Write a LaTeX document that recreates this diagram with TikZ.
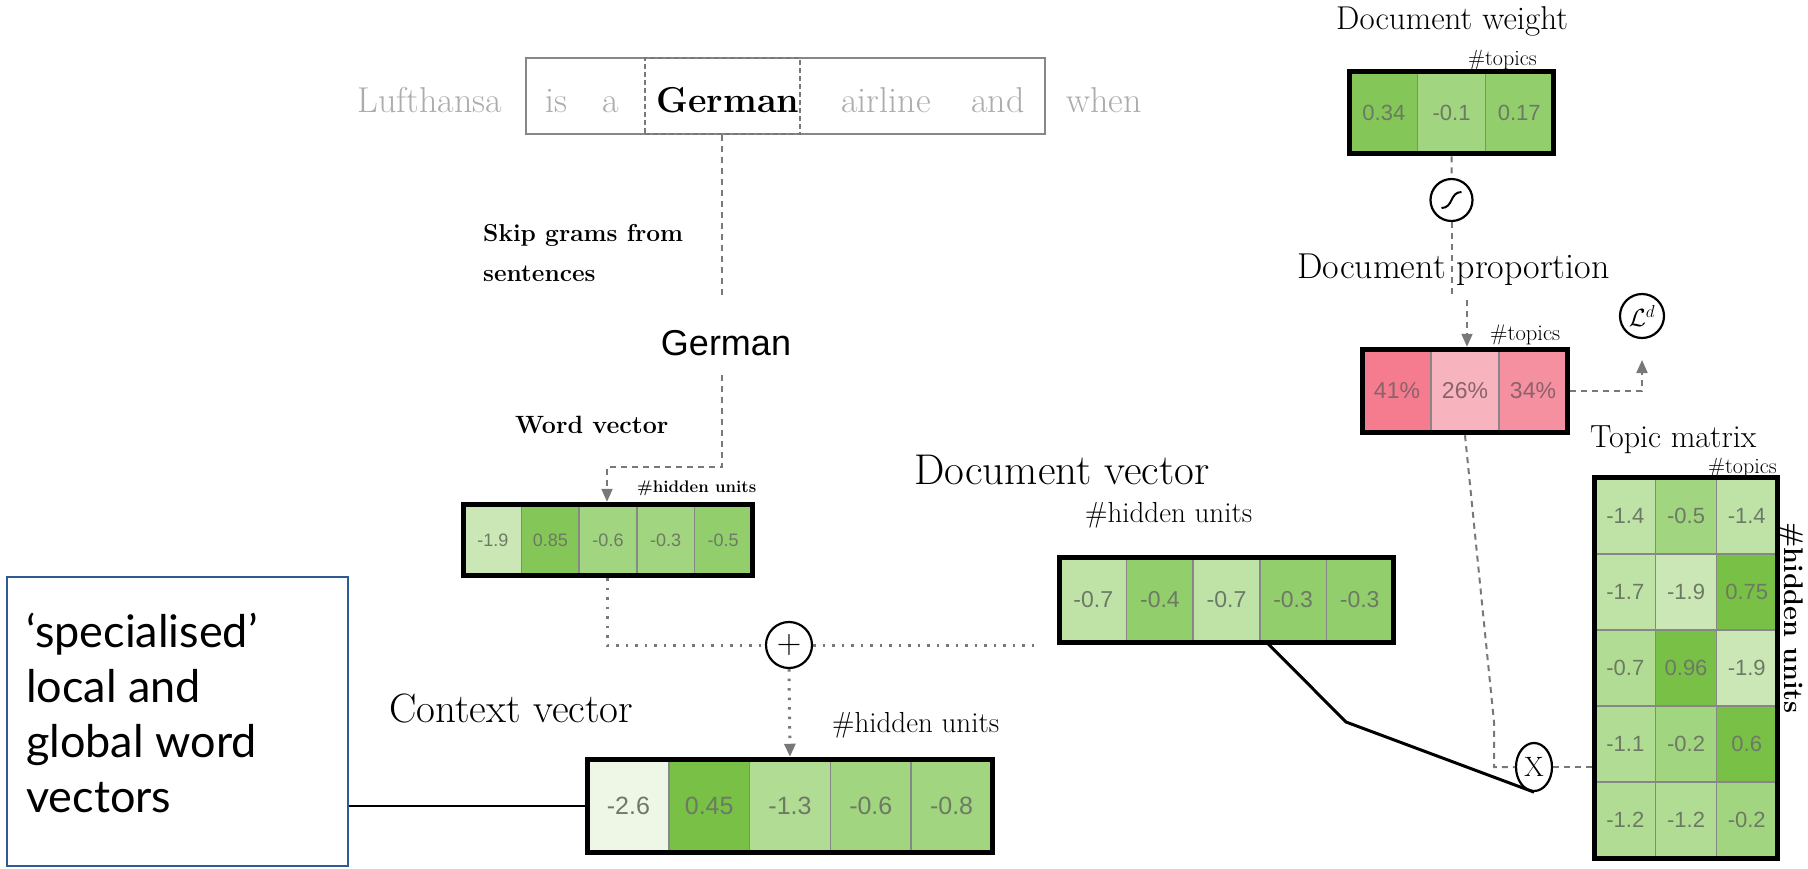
\documentclass[tikz,border=0pt]{standalone}
\usepackage{fontspec}
\newfontfamily\numfont{Liberation Sans}
\newfontfamily\callfont{Lato}
\usetikzlibrary{arrows.meta,fit,shapes.geometric}

\newcommand\setfs[1]{\fontsize{#1}{#1}\selectfont}

% cell shades
\definecolor{gW}{HTML}{EEF7E6}
\definecolor{gA}{HTML}{CBE7B6}
\definecolor{gB}{HTML}{BFE2A6}
\definecolor{gC}{HTML}{B0DC94}
\definecolor{gD}{HTML}{A2D57F}
\definecolor{gE}{HTML}{92CE6C}
\definecolor{gF}{HTML}{78C046}
\definecolor{gG}{HTML}{84C658}
\definecolor{pA}{HTML}{F47C8E}
\definecolor{pB}{HTML}{F8B4BE}
\definecolor{pC}{HTML}{F4909F}
\definecolor{numgreen}{RGB}{108,122,100}
\definecolor{numpink}{RGB}{140,98,106}
\definecolor{cellline}{RGB}{135,135,135}
\definecolor{dgray}{RGB}{120,120,120}
\definecolor{wordgray}{RGB}{172,172,172}
\definecolor{callblue}{RGB}{46,90,150}

\begin{document}
\begin{tikzpicture}[x=1pt,y=-1pt,
  cell/.style={draw=cellline, line width=1.5pt, inner sep=0pt, text=numgreen},
  pcell/.style={cell, text=numpink},
  vecbox/.style={draw=black, line width=5pt, inner sep=0pt},
  dashline/.style={draw=dgray, line width=2pt, dash pattern=on 6pt off 5pt},
  dotline/.style={draw=dgray, line width=3pt, dash pattern=on 2.5pt off 7pt},
  tip/.style={-{Triangle[length=13pt,width=11pt]}},
  opcircle/.style={circle, draw=black, line width=2.2pt, inner sep=0pt},
  sentword/.style={anchor=base, inner sep=0pt, text=wordgray, font=\setfs{36}},
  lab/.style={anchor=base west, inner sep=0pt},
]
\useasboundingbox (0,0) rectangle (1808,868);
\fill[white] (0,0) rectangle (1808,868);

% ---------- sentence with skip-gram window ----------
\node[draw=cellline, line width=2.5pt, minimum width=519pt, minimum height=76pt, inner sep=0pt] (sentbox) at (785.5,96) {};
\node[draw=dgray, line width=2pt, dash pattern=on 5pt off 3pt, minimum width=155pt, minimum height=76pt, inner sep=0pt] (germbox) at (722,96) {};
\node[sentword] (wLuf) at (430,112) {Lufthansa};
\node[sentword] (wis) at (556,112) {is};
\node[sentword] (wa) at (611,112) {a};
\node[sentword, text=black, font=\bfseries\setfs{36}] (wGer) at (728,112) {German};
\node[sentword] (wair) at (886,112) {airline};
\node[sentword] (wand) at (998,112) {and};
\node[sentword] (wwhen) at (1104,112) {when};

\node[lab, font=\bfseries\setfs{24.5}] (skip1) at (483,241) {Skip grams from};
\node[lab, font=\bfseries\setfs{24.5}] (skip2) at (483,281) {sentences};
\node[anchor=base, inner sep=0pt, font=\numfont\setfs{36}] (glabel) at (726,355) {German};

% ---------- word vector ----------
\node[lab, font=\bfseries\setfs{25}] (wvlab) at (515,433) {Word vector};
\node[lab, font=\bfseries\setfs{16.8}] (wvhu) at (637,492) {\#hidden units};
\foreach \v/\c [count=\i] in {-1.9/gA, 0.85/gG, -0.6/gD, -0.3/gD, -0.5/gE}
  \node[cell, fill=\c, minimum width=57.6pt, minimum height=70pt, font=\numfont\setfs{18}] (w\i) at ({464+(\i-0.5)*57.6},540) {\v};
\node[vecbox, fit=(w1)(w5)] (word) {};

% ---------- context vector ----------
\node[lab, font=\setfs{41}] (cvlab) at (389,722) {Context vector};
\node[lab, font=\setfs{29}] (cvhu) at (832,732) {\#hidden units};
\foreach \v/\c [count=\i] in {-2.6/gW, 0.45/gF, -1.3/gC, -0.6/gD, -0.8/gD}
  \node[cell, fill=\c, minimum width=80.8pt, minimum height=92pt, font=\numfont\setfs{25}] (c\i) at ({588+(\i-0.5)*80.8},806) {\v};
\node[vecbox, fit=(c1)(c5)] (context) {};

\node[opcircle, minimum size=46pt, font=\setfs{34}] (plus) at (789,645) {+};

% ---------- document vector ----------
\node[lab, font=\setfs{43}] (dvlab) at (914,484) {Document vector};
\node[lab, font=\setfs{29}] (dvhu) at (1085,522) {\#hidden units};
\foreach \v/\c [count=\i] in {-0.7/gB, -0.4/gE, -0.7/gB, -0.3/gE, -0.3/gE}
  \node[cell, fill=\c, minimum width=66.6pt, minimum height=84pt, font=\numfont\setfs{23}] (d\i) at ({1060+(\i-0.5)*66.6},600) {\v};
\node[vecbox, fit=(d1)(d5)] (docvec) {};

% ---------- document weight and proportion ----------
\node[lab, font=\setfs{33}] (dwlab) at (1336,29) {Document weight};
\node[lab, font=\setfs{22}] (dwtop) at (1468,65) {\#topics};
\foreach \v/\c [count=\i] in {0.34/gG, -0.1/gD, 0.17/gE}
  \node[cell, fill=\c, minimum width=67.7pt, minimum height=81pt, font=\numfont\setfs{22}] (k\i) at ({1350+(\i-0.5)*67.7},112.5) {\v};
\node[vecbox, fit=(k1)(k3)] (weight) {};

\node[opcircle, minimum size=42pt] (sig) at (1451.5,200) {};
\draw[line width=2pt] (sig.center) ++(-10,8) .. controls +(12,0) and +(-12,0) .. ++(20,-16);

\node[lab, font=\setfs{36}] (dplab) at (1297,278) {Document proportion};
\node[lab, font=\setfs{22.5}] (dptop) at (1490,340) {\#topics};
\foreach \v/\c [count=\i] in {41\%/pA, 26\%/pB, 34\%/pC}
  \node[pcell, fill=\c, minimum width=68pt, minimum height=82pt, font=\numfont\setfs{23}] (p\i) at ({1363+(\i-0.5)*68},391) {\v};
\node[vecbox, fit=(p1)(p3)] (prop) {};

\node[opcircle, minimum size=44pt, font=\setfs{24}] (loss) at (1642,316) {$\mathcal{L}^{d}$};

% ---------- topic matrix ----------
\node[lab, font=\setfs{32}] (tmlab) at (1590,447) {Topic matrix};
\node[lab, font=\setfs{22}] (tmtop) at (1708,473) {\#topics};
\foreach \v/\c [count=\i] in {-1.4/gB, -0.5/gD, -1.4/gB, -1.7/gB, -1.9/gA, 0.75/gF, -0.7/gC, 0.96/gF, -1.9/gA, -1.1/gC, -0.2/gD, 0.6/gF, -1.2/gC, -1.2/gC, -0.2/gD}
  \node[cell, fill=\c, minimum width=60.7pt, minimum height=76pt, font=\numfont\setfs{22}] (m\i)
    at ({1595+(mod(\i-1,3)+0.5)*60.7},{478+(floor((\i-1)/3)+0.5)*76}) {\v};
\node[vecbox, fit=(m1)(m15)] (topicmat) {};
\node[rotate=-90, inner sep=0pt, font=\bfseries\setfs{27}] (tmhu) at (1791,618) {\#hidden units};

\node[draw=black, ellipse, line width=2.2pt, minimum width=36pt, minimum height=48pt, inner sep=0pt, font=\setfs{28}] (X) at (1534,767) {X};

% ---------- callout ----------
\node[draw=callblue, line width=1.6pt, minimum width=341pt, minimum height=289pt, inner sep=0pt] (callout) at (177.5,721.5) {};
\node[anchor=north west, align=left, inner sep=0pt, font=\callfont\fontsize{45}{55}\selectfont] (calltext) at (26,613) {‘specialised’\\local and\\global word\\vectors};

% ---------- connectors ----------
\coordinate (gtop) at (722,297);
\coordinate (gbot) at (722,375);
\coordinate (gbend) at (722,467);
\coordinate (wbend) at (607,467);
\draw[dashline] (germbox.south) -- (gtop);
\draw[dashline, tip] (gbot) -- (gbend) -- (wbend) -- (wbend |- word.north);

\coordinate (wdrop) at (607,645);
\coordinate (dvend) at (1040,645);
\draw[dotline] (wbend |- word.south) -- (wdrop) -- (plus.west);
\draw[dotline] (plus.east) -- (dvend);
\draw[dotline, tip] (plus.south) -- (context.north);

\draw[line width=2.5pt] (callout.east |- context.west) -- (context.west);

\coordinate (dvbend) at (1346,722);
\draw[line width=3pt] ([xshift=8pt]d4.south west) -- (dvbend) -- (X.south);

\draw[dashline] (weight.south) -- (sig.north);
\coordinate (sigend) at (1451.5,297);
\coordinate (propin) at (1467,300);
\draw[dashline] (sig.south) -- (sigend);
\draw[dashline, tip] (propin) -- (propin |- prop.north);

\coordinate (losstip) at (1642,360);
\draw[dashline, tip] (prop.east) -- (losstip |- prop.east) -- (losstip);

\coordinate (pslant) at (1494,722);
\draw[dashline] (prop.south) -- (pslant) -- (pslant |- X.west) -- (X.west);
\draw[dashline] (X.east) -- (topicmat.west |- X.east);
\end{tikzpicture}
\end{document}
